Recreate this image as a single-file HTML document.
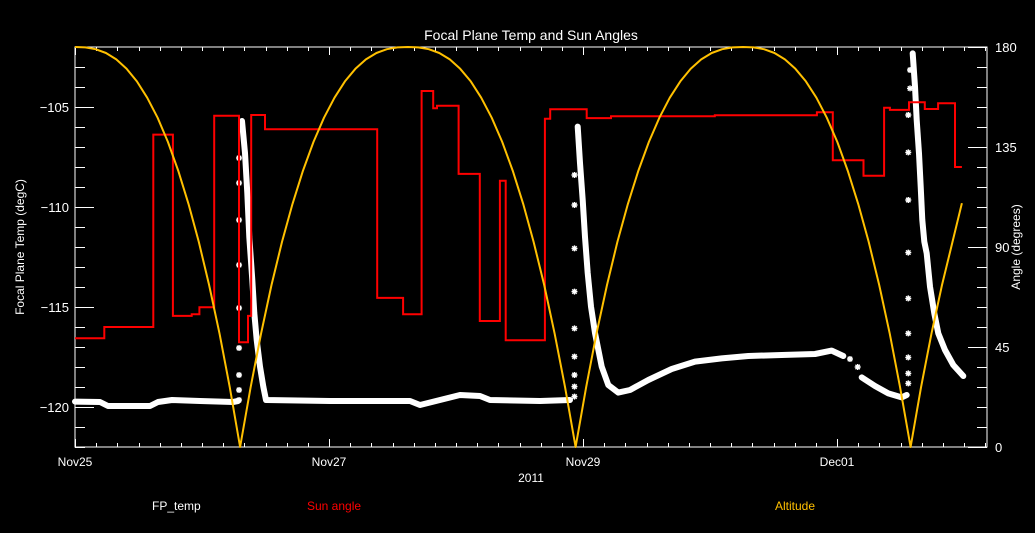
<!DOCTYPE html>
<html><head><meta charset="utf-8"><style>
html,body{margin:0;padding:0;background:#000;}
svg{display:block;font-family:"Liberation Sans",sans-serif;}
</style></head><body>
<svg id="chart" width="1035" height="533" xmlns="http://www.w3.org/2000/svg">
<rect x="0" y="0" width="1035" height="533" fill="#000"/>
<text x="531" y="40" fill="#fff" font-size="14" text-anchor="middle">Focal Plane Temp and Sun Angles</text>
<g id="axes"></g>
<g id="marks"></g>
<text x="531" y="482" fill="#fff" font-size="12" text-anchor="middle">2011</text>
<text transform="translate(24,247) rotate(-90)" fill="#fff" font-size="12" text-anchor="middle">Focal Plane Temp (degC)</text>
<text transform="translate(1020,247) rotate(-90)" fill="#fff" font-size="12" text-anchor="middle">Angle (degrees)</text>
<text x="152" y="510" fill="#fff" font-size="12">FP_temp</text>
<text x="307" y="510" fill="#ff0000" font-size="12">Sun angle</text>
<text x="775" y="510" fill="#ffc000" font-size="12">Altitude</text>
</svg>
<script>
// ---- data ----
const xTickLabels = ["Nov25","Nov27","Nov29","Dec01"];
const xTickHours = [0,48,96,144];
const yTempTicks = [-105,-110,-115,-120];
const yAngleTicks = [0,45,90,135,180];

const sunHours = [0,5.54,14.8,18.5,22.05,23.5,26.3,31.0,32.7,33.3,35.9,57.1,62.0,65.5,67.7,68.4,72.5,76.5,80.3,81.4,88.8,89.8,96.7,101.3,120.9,140.2,143.2,149.0,152.9,154.0,157.6,160.6,163.1,166.3];
const sunAngle = [48.9,54.0,140.6,59.0,59.7,62.9,149.1,47.1,59.0,149.4,143.0,67.1,59.7,160.2,152.4,153.6,122.9,56.7,119.8,48.0,147.7,152.0,148.0,148.8,149.3,150.6,129.0,122.1,152.7,151.7,155.1,152.1,154.7,126.0];
const sunEndHour = 167.6;

const altHours = [0,1.95,3.9,5.85,7.8,9.75,11.7,13.65,15.6,17.55,19.5,21.45,23.4,25.35,27.3,29.25,31.2,
33.18,35.16,37.14,39.12,41.11,43.09,45.07,47.05,49.03,51.01,52.99,54.97,56.96,58.94,60.92,62.9,
64.88,66.86,68.84,70.82,72.8,74.79,76.77,78.75,80.73,82.71,84.69,86.67,88.66,90.64,92.62,94.6,
96.58,98.56,100.53,102.51,104.49,106.47,108.45,110.43,112.4,114.38,116.36,118.34,120.32,122.3,124.27,126.25,
128.23,130.21,132.19,134.16,136.14,138.12,140.1,142.08,144.06,146.03,148.01,149.99,151.97,153.95,155.92,157.9,
159.88,161.86,163.84,165.82,167.6];
const altValues = [180,179.8,179,177.3,174.4,170.2,164.5,157.2,148.2,137.3,124.4,109.4,92.3,72.9,51.1,26.8,0,
26.8,51.1,72.9,92.3,109.4,124.4,137.3,148.2,157.2,164.5,170.2,174.4,177.3,179,179.8,180,
179.8,179,177.3,174.4,170.2,164.5,157.2,148.2,137.3,124.4,109.4,92.3,72.9,51.1,26.8,0,
26.8,51.1,72.9,92.3,109.4,124.4,137.3,148.2,157.2,164.5,170.2,174.4,177.3,179,179.8,180,
179.8,179,177.3,174.4,170.2,164.5,157.2,148.2,137.3,124.4,109.4,92.3,72.9,51.1,26.8,0,
26.8,51.1,72.9,92.3,109.7];

const fp1Hours = [0,4.72,6.24,14.17,15.69,18.33,23.62,29.86,30.8];
const fp1Temp = [-119.73,-119.75,-119.95,-119.95,-119.75,-119.65,-119.7,-119.75,-119.7];
const fp2Hours = [31.56,32.13,32.56,32.94,33.51,33.88,34.34,34.96,35.59,36.1,48.19,63.31,65.2,68.98,72.76,76.54,78.43,87.88,93.55];
const fp2Temp = [-105.7,-107.3,-109.3,-111.5,-113.65,-115.3,-116.65,-117.98,-118.98,-119.65,-119.7,-119.7,-119.9,-119.65,-119.4,-119.45,-119.65,-119.7,-119.65];
const fp3Hours = [95.0,95.43,95.94,96.38,96.89,97.51,98.27,99.53,100.78,102.67,104.88,108.34,112.76,117.17,122.21,127.24,133.55,139.84,143.0,145.19];
const fp3Temp = [-105.98,-107.8,-109.65,-111.5,-113.3,-114.98,-116.3,-117.98,-118.9,-119.28,-119.15,-118.65,-118.1,-117.73,-117.57,-117.45,-117.4,-117.35,-117.18,-117.45];
const fp4Hours = [148.67,151.18,153.7,156.23,157.17];
const fp4Temp = [-118.52,-118.95,-119.32,-119.52,-119.4];
const fp5Hours = [158.31,158.74,159.06,159.5,159.82,160.12,160.5,160.95,161.58,162.39,163.15,164.41,165.98,167.87];
const fp5Temp = [-102.32,-103.98,-105.65,-107.32,-108.98,-110.65,-111.73,-112.32,-113.98,-115.32,-116.32,-117.15,-117.9,-118.45];
const fpSparseHours = [31.0,31.0,31.0,31.0,31.0,31.0,31.0,31.0,31.0,94.39,94.39,94.39,94.39,94.39,94.39,94.39,94.39,94.39,146.45,147.91,157.47,157.47,157.47,157.47,157.47,157.47,157.47,157.47,157.47,157.8,157.8];
const fpSparseTemp = [-119.65,-119.15,-118.4,-117.05,-115.05,-112.9,-110.65,-108.8,-107.55,-119.48,-118.98,-118.4,-117.48,-116.07,-114.23,-112.07,-109.9,-108.4,-117.6,-118.0,-118.82,-118.32,-117.52,-116.32,-114.57,-112.28,-109.65,-107.27,-105.4,-104.07,-103.15];

// ---- scales ----
const L=75,R=987,T=47,B=447;
const xS = h => L + h*(254/48);
const yT = t => T + (-102 - t)*20;
const yA = a => B - a*(400/180);
const NS="http://www.w3.org/2000/svg";
function mk(tag, attrs, parent){const e=document.createElementNS(NS,tag);for(const k in attrs)e.setAttribute(k,attrs[k]);parent.appendChild(e);return e;}
const axes=document.getElementById('axes'), marks=document.getElementById('marks');

let fr=mk('rect',{x:L,y:T,width:R-L,height:B-T,fill:'none',stroke:'#fff','stroke-width':1},axes);


for(let h=0; xS(h)<=R+0.5; h+=4){
  const x=Math.round(xS(h))+0.5, major=(h%48===0), len=major?8:4;
  let t1=mk('line',{x1:x,x2:x,y1:B,y2:B-len,stroke:'#fff'},axes);
  
  
  let t2=mk('line',{x1:x,x2:x,y1:T,y2:T+len,stroke:'#fff'},axes);
  
  
}
xTickLabels.forEach((s,i)=>{
  let t=mk('text',{x:xS(xTickHours[i]),y:466,fill:'#fff','font-size':12,'text-anchor':'middle'},axes);
  t.textContent=s;
  
  
});
for(let v=-102; v>=-122; v--){
  const y=Math.round(yT(v))+0.5, major=(v%5===0);
  let t=mk('line',{x1:L,x2:L+(major?19:10),y1:y,y2:y,stroke:'#fff'},axes);
  
  
}
yTempTicks.forEach(v=>{
  let t=mk('text',{x:69,y:yT(v)+5,fill:'#fff','font-size':13,'text-anchor':'end'},axes);
  t.textContent='\u2212'+Math.abs(v);
  
  
});
for(let a=0; a<=180; a+=9){
  const y=Math.round(yA(a))+0.5, major=(a%45===0);
  let t=mk('line',{x1:R,x2:R-(major?19:10),y1:y,y2:y,stroke:'#fff'},axes);
  
  
}
yAngleTicks.forEach(a=>{
  let t=mk('text',{x:995,y:yA(a)+5,fill:'#fff','font-size':13},axes);
  t.textContent=a;
  
  
});

function band(hs,ts,name){
  const p=hs.map((h,i)=>xS(h).toFixed(1)+','+yT(ts[i]).toFixed(1)).join(' ');
  let e=mk('polyline',{points:p,fill:'none',stroke:'#fff','stroke-width':6,'stroke-linejoin':'round','stroke-linecap':'round'},marks);
  
  
}
band(fp1Hours,fp1Temp,'fp-temp-segment-1');
band(fp2Hours,fp2Temp,'fp-temp-segment-2');
band(fp3Hours,fp3Temp,'fp-temp-segment-3');
band(fp4Hours,fp4Temp,'fp-temp-segment-4');
band(fp5Hours,fp5Temp,'fp-temp-segment-5');
fpSparseHours.forEach((h,i)=>{
  const x=xS(h), y=yT(fpSparseTemp[i]), r=3;
  let s=mk('path',{d:`M${x-r},${y}H${x+r}M${x},${y-r}V${y+r}M${x-2.2},${y-2.2}L${x+2.2},${y+2.2}M${x-2.2},${y+2.2}L${x+2.2},${y-2.2}`,stroke:'#fff','stroke-width':1.4},marks);
  
  
});

let d='';
sunHours.forEach((h,i)=>{
  const x=xS(h).toFixed(1), y=yA(sunAngle[i]).toFixed(1);
  d += (i===0?`M${x},${y}`:`V${y}`);
  const nx = i<sunHours.length-1 ? xS(sunHours[i+1]) : xS(sunEndHour);
  d += `H${nx.toFixed(1)}`;
});
let sun=mk('path',{d:d,fill:'none',stroke:'#ff0000','stroke-width':2},marks);



const ap=altHours.map((h,i)=>xS(h).toFixed(1)+','+yA(altValues[i]).toFixed(1)).join(' ');
let alt=mk('polyline',{points:ap,fill:'none',stroke:'#ffc000','stroke-width':2,'stroke-linejoin':'round'},marks);


</script>
</body></html>
